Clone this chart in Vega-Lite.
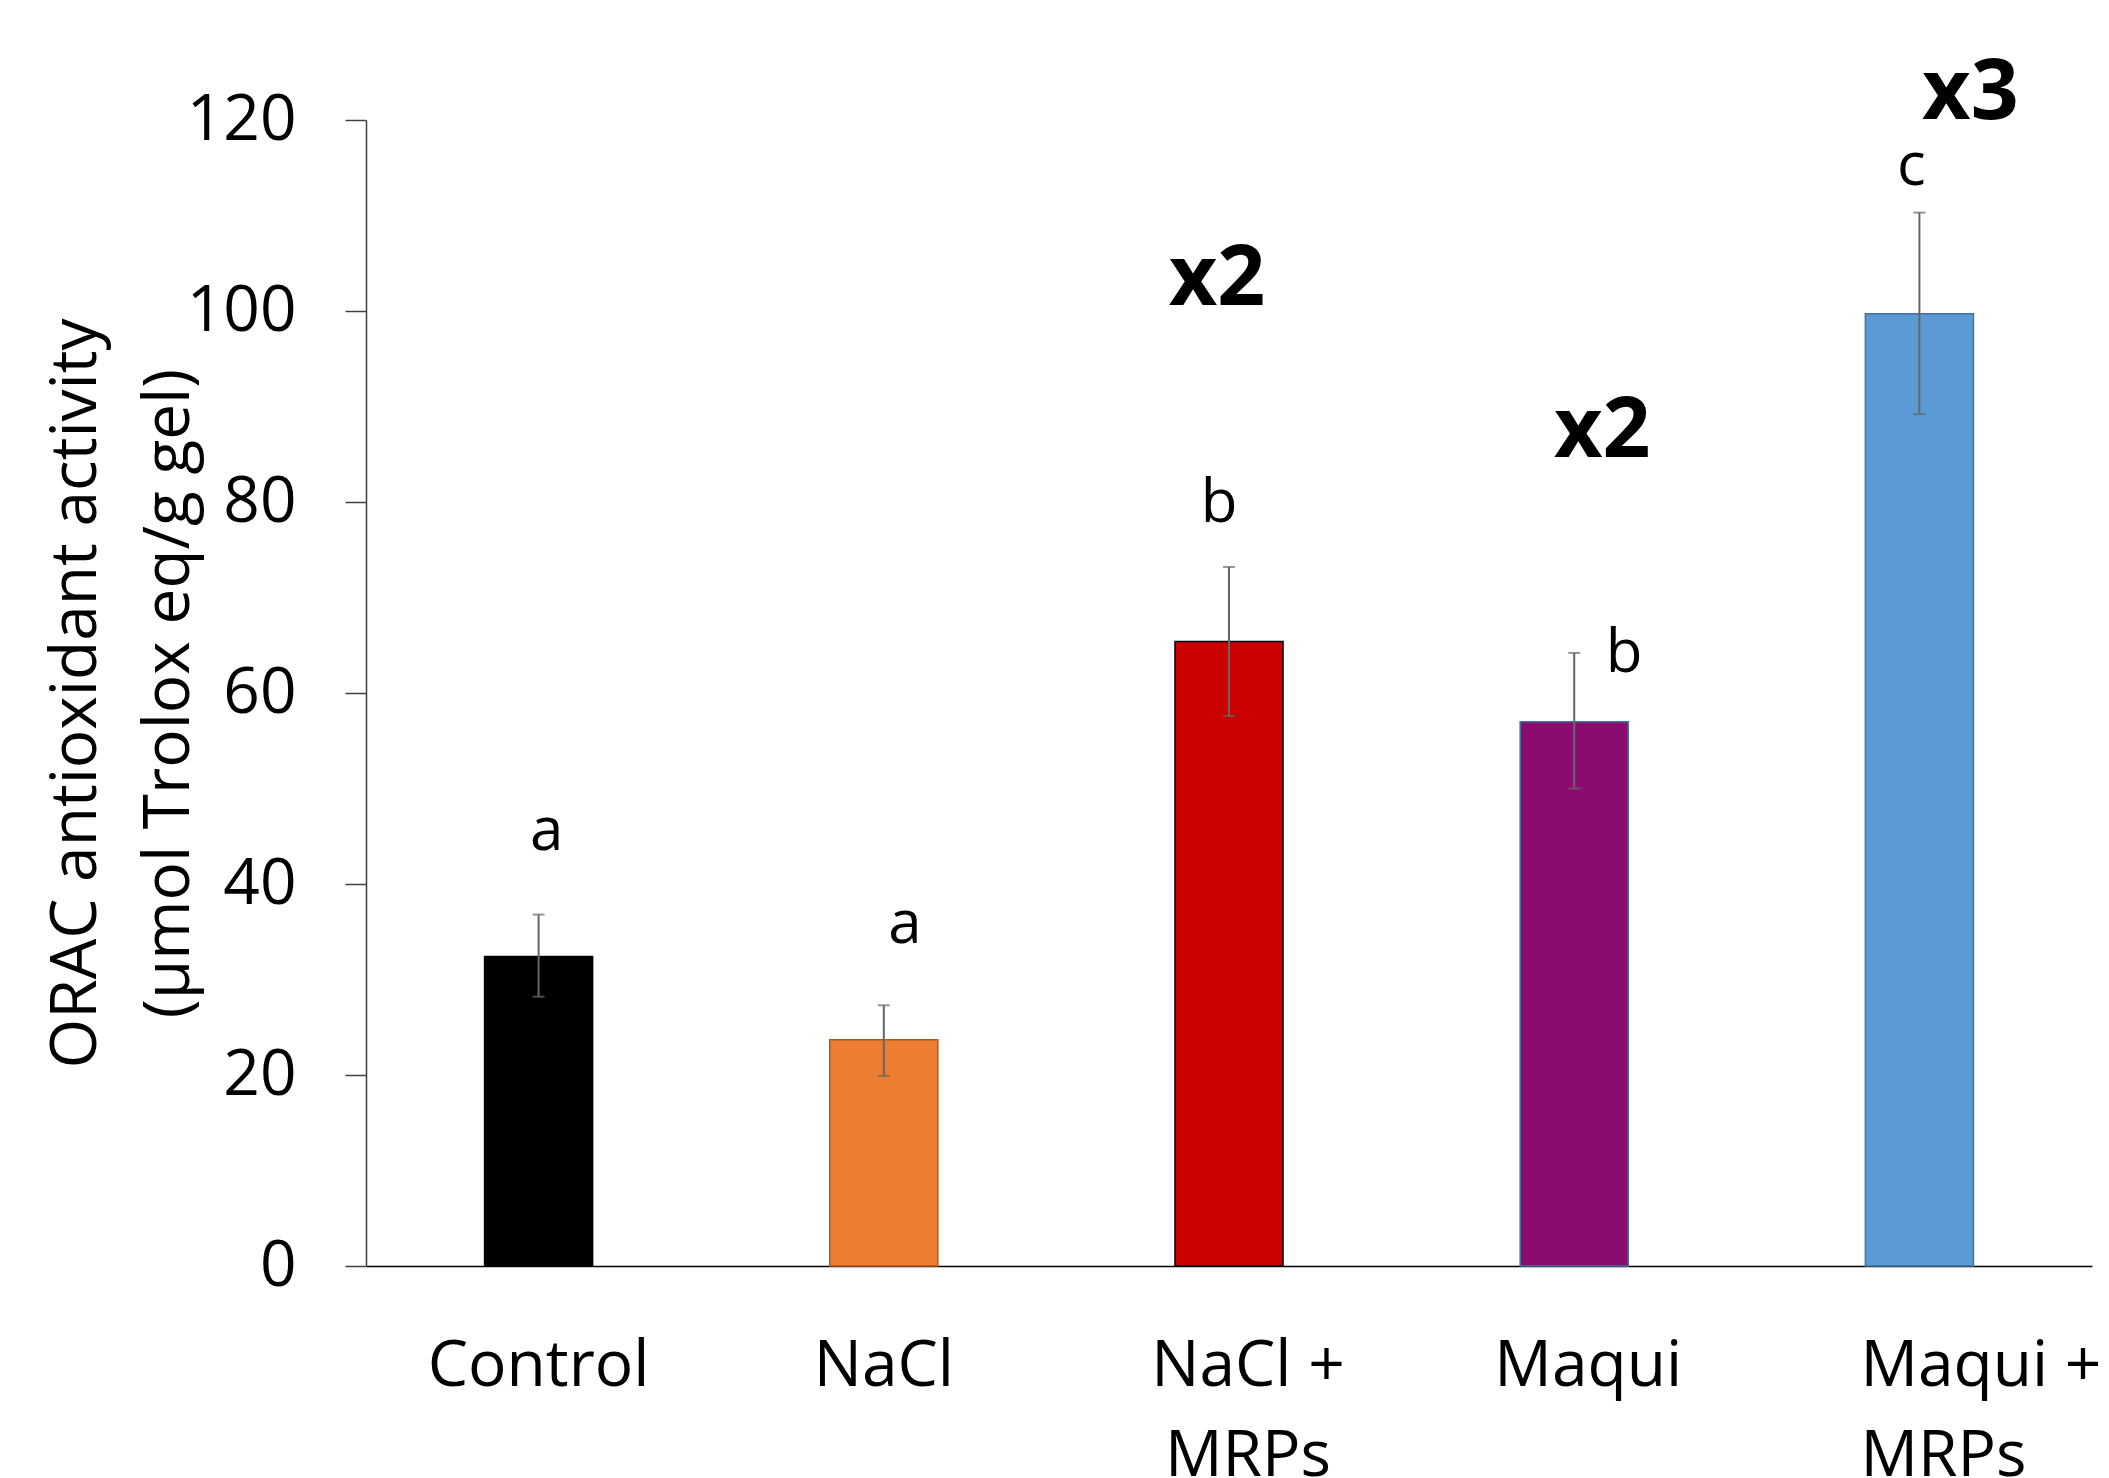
{
  "$schema": "https://vega.github.io/schema/vega-lite/v6.json",
  "width": 1726,
  "height": 1146,
  "autosize": {"type": "none"},
  "padding": {"left": 366, "top": 120, "right": 17, "bottom": 212},
  "background": "white",
  "config": {
    "view": {"stroke": null},
    "font": "Open Sans",
    "style": {"guide-title": {"lineBreak": "\n"}},
    "text": {"font": "Open Sans", "fontSize": 60, "color": "black", "baseline": "alphabetic", "align": "center"}
  },
  "datasets": {
    "main": [
      {"cat": "Control", "value": 32.4, "lo": 28.2, "hi": 36.8},
      {"cat": "NaCl", "value": 23.7, "lo": 19.9, "hi": 27.3},
      {"cat": "NaCl + MRPs", "value": 65.4, "lo": 57.6, "hi": 73.2},
      {"cat": "Maqui", "value": 57.0, "lo": 50.0, "hi": 64.2},
      {"cat": "Maqui + MRPs", "value": 99.7, "lo": 89.2, "hi": 110.3}
    ],
    "notes": [
      {"cat": "Control", "y": 43.6, "txt": "a"},
      {"cat": "NaCl", "y": 33.8, "txt": "a"},
      {"cat": "NaCl + MRPs", "y": 77.9, "txt": "b"},
      {"cat": "Maqui", "y": 62.2, "txt": "b"},
      {"cat": "Maqui + MRPs", "y": 113.2, "txt": "c"},
      {"cat": "NaCl + MRPs", "y": 100.6, "txt": "x2"},
      {"cat": "Maqui", "y": 84.7, "txt": "x2"},
      {"cat": "Maqui + MRPs", "y": 120.1, "txt": "x3"}
    ]
  },
  "encoding": {
    "x": {
      "field": "cat", "type": "nominal", "sort": null,
      "scale": {"domain": ["Control", "NaCl", "NaCl + MRPs", "Maqui", "Maqui + MRPs"], "paddingInner": 0.687, "paddingOuter": 0.3435},
      "axis": {
        "title": null, "ticks": false, "domainColor": "#000000", "domainWidth": 1.5,
        "labelFont": "Open Sans", "labelFontSize": 64, "labelColor": "black",
        "labelAngle": 0, "labelBaseline": "alphabetic", "labelPadding": 119,
        "labelLineHeight": 90,
        "labelAlign": {"condition": {"test": "datum.value == 'Maqui + MRPs'", "value": "left"}, "value": "center"},
        "labelOffset": {"condition": [
          {"test": "datum.value == 'Maqui + MRPs'", "value": -59},
          {"test": "datum.value == 'NaCl + MRPs'", "value": 19},
          {"test": "datum.value == 'Maqui'", "value": 14}
        ], "value": 0},
        "labelExpr": "split(replace(datum.label, ' + ', ' +|'), '|')",
        "labelOverlap": false, "labelLimit": 0
      }
    }
  },
  "layer": [
    {
      "data": {"name": "main"},
      "mark": {"type": "bar", "strokeWidth": 1.5},
      "encoding": {
        "y": {
          "field": "value", "type": "quantitative",
          "scale": {"domain": [0, 120], "nice": false},
          "axis": {
            "title": "ORAC antioxidant activity\n(µmol Trolox eq/g gel)",
            "values": [0, 20, 40, 60, 80, 100, 120],
            "grid": false, "tickSize": 21, "tickColor": "#404040", "tickWidth": 1.5,
            "domainColor": "#404040", "domainWidth": 1.5,
            "labelFont": "Open Sans", "labelFontSize": 64, "labelColor": "black", "labelPadding": 49,
            "titleFont": "Open Sans", "titleFontSize": 64, "titleFontWeight": "normal", "titleColor": "black",
            "titleAngle": -90, "titleAlign": "center", "titleBaseline": "alphabetic",
            "titleLineHeight": 93, "titleX": -271, "titleY": 573
          }
        },
        "color": {
          "field": "cat", "type": "nominal", "legend": null,
          "scale": {"domain": ["Control", "NaCl", "NaCl + MRPs", "Maqui", "Maqui + MRPs"], "range": ["#000000", "#ED7D31", "#CC0000", "#8B0C6E", "#5B9BD5"]}
        },
        "stroke": {
          "field": "cat", "type": "nominal", "legend": null,
          "scale": {"domain": ["Control", "NaCl", "NaCl + MRPs", "Maqui", "Maqui + MRPs"], "range": ["#000000", "#AE5A21", "#000000", "#41719C", "#41719C"]}
        }
      }
    },
    {
      "data": {"name": "main"},
      "mark": {"type": "rule", "color": "#666666", "strokeWidth": 2},
      "encoding": {
        "y": {"field": "lo", "type": "quantitative"},
        "y2": {"field": "hi"}
      }
    },
    {
      "data": {"name": "main"},
      "mark": {"type": "tick", "color": "#666666", "size": 12, "thickness": 2},
      "encoding": {"y": {"field": "lo", "type": "quantitative"}}
    },
    {
      "data": {"name": "main"},
      "mark": {"type": "tick", "color": "#666666", "size": 12, "thickness": 2},
      "encoding": {"y": {"field": "hi", "type": "quantitative"}}
    },
    {"data": {"name": "notes"}, "transform": [{"filter": "datum.txt == 'a' && datum.cat == 'Control'"}], "mark": {"type": "text", "dx": 8}, "encoding": {"y": {"field": "y", "type": "quantitative"}, "text": {"field": "txt"}}},
    {"data": {"name": "notes"}, "transform": [{"filter": "datum.txt == 'a' && datum.cat == 'NaCl'"}], "mark": {"type": "text", "dx": 21}, "encoding": {"y": {"field": "y", "type": "quantitative"}, "text": {"field": "txt"}}},
    {"data": {"name": "notes"}, "transform": [{"filter": "datum.txt == 'b' && datum.cat == 'NaCl + MRPs'"}], "mark": {"type": "text", "dx": -10}, "encoding": {"y": {"field": "y", "type": "quantitative"}, "text": {"field": "txt"}}},
    {"data": {"name": "notes"}, "transform": [{"filter": "datum.txt == 'b' && datum.cat == 'Maqui'"}], "mark": {"type": "text", "dx": 50}, "encoding": {"y": {"field": "y", "type": "quantitative"}, "text": {"field": "txt"}}},
    {"data": {"name": "notes"}, "transform": [{"filter": "datum.txt == 'c'"}], "mark": {"type": "text", "dx": -8}, "encoding": {"y": {"field": "y", "type": "quantitative"}, "text": {"field": "txt"}}},
    {"data": {"name": "notes"}, "transform": [{"filter": "datum.txt == 'x2' && datum.cat == 'NaCl + MRPs'"}], "mark": {"type": "text", "dx": -12, "fontSize": 84, "fontWeight": "bold"}, "encoding": {"y": {"field": "y", "type": "quantitative"}, "text": {"field": "txt"}}},
    {"data": {"name": "notes"}, "transform": [{"filter": "datum.txt == 'x2' && datum.cat == 'Maqui'"}], "mark": {"type": "text", "dx": 28, "fontSize": 84, "fontWeight": "bold"}, "encoding": {"y": {"field": "y", "type": "quantitative"}, "text": {"field": "txt"}}},
    {"data": {"name": "notes"}, "transform": [{"filter": "datum.txt == 'x3'"}], "mark": {"type": "text", "dx": 51, "fontSize": 84, "fontWeight": "bold"}, "encoding": {"y": {"field": "y", "type": "quantitative"}, "text": {"field": "txt"}}}
  ]
}
